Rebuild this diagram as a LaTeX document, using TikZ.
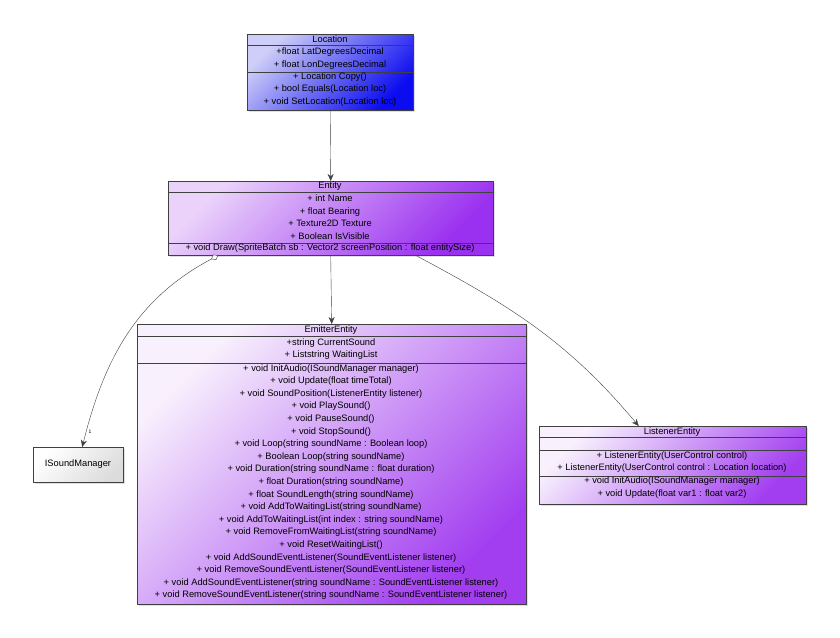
\documentclass[tikz,border=0pt]{standalone}
\usepackage{fontspec}
\setmainfont{Liberation Sans}
\usetikzlibrary{shadows, positioning, arrows.meta}

\newcommand{\umlfont}{\fontsize{9.3}{12.6}\selectfont}

\definecolor{locLight}{HTML}{CECEF8}
\definecolor{locDark}{HTML}{0C0CF0}
\definecolor{entLight}{HTML}{EAD2FA}
\definecolor{entDark}{HTML}{9A30F0}
\definecolor{emLight}{HTML}{F8F0FD}
\definecolor{emDark}{HTML}{A23EF0}
\definecolor{ismDark}{HTML}{DCDCDC}

\tikzset{
    class box/.style = {draw=black!75, anchor=north west, inner sep=0pt,
        drop shadow={opacity=0.25, shadow xshift=2pt, shadow yshift=-2pt}},
    members/.style = {align=center, inner sep=0pt, font=\umlfont},
    dep/.style = {draw=black!75, -{Stealth[length=7pt, width=6pt]}},
    agg/.style = {draw=black!75, {Diamond[fill=white, length=8pt, width=6pt]}-{Stealth[length=7pt, width=6pt]}},
}
\tikzset{
    loc shade/.style = {top color=locLight, bottom color=locDark, shading angle=45},
    ent shade/.style = {top color=entLight, bottom color=entDark, shading angle=45},
    em shade/.style = {top color=emLight, bottom color=emDark, shading angle=45},
    ism shade/.style = {top color=white, bottom color=ismDark, shading angle=45},
}

\begin{document}
\begin{tikzpicture}[x=1pt, y=-1pt]
    \fill[white] (0,0) rectangle (840,637);
    \useasboundingbox (0,0) rectangle (840,637);

    % class boxes
    \node[class box, loc shade, minimum width=166pt, minimum height=76pt] (loc) at (247,34) {};
    \node[class box, ent shade, minimum width=325pt, minimum height=74pt] (ent) at (168,181) {};
    \node[class box, em shade, minimum width=389pt, minimum height=280pt] (emit) at (137,324) {};
    \node[class box, em shade, minimum width=267pt, minimum height=78pt] (list) at (539,426) {};
    \node[class box, ism shade, minimum width=90pt, minimum height=35pt] (ism) at (33,447) {};

    % compartments
    \draw[black!75] (loc.north west) ++(0,11) -- ++(166,0);
    \draw[black!75] (loc.north west) ++(0,38) -- ++(166,0);
    \draw[black!75] (ent.north west) ++(0,11) -- ++(325,0);
    \draw[black!75] (ent.north west) ++(0,62) -- ++(325,0);
    \draw[black!75] (emit.north west) ++(0,12) -- ++(389,0);
    \draw[black!75] (emit.north west) ++(0,39) -- ++(389,0);
    \draw[black!75] (list.north west) ++(0,11) -- ++(267,0);
    \draw[black!75] (list.north west) ++(0,24) -- ++(267,0);
    \draw[black!75] (list.north west) ++(0,50) -- ++(267,0);

    % Location
    \node[members] (loc-name) at (330,39) {Location};
    \node[members] (loc-attr) at (330,58.5) {+float LatDegreesDecimal\\+ float LonDegreesDecimal};
    \node[members] (loc-ops) at (330,89.5) {+ Location Copy()\\+ bool Equals(Location loc)\\+ void SetLocation(Location loc)};

    % Entity
    \node[members] (ent-name) at (330,186) {Entity};
    \node[members] (ent-attr) at (330,217) {+ int Name\\+ float Bearing\\+ Texture2D Texture\\+ Boolean IsVisible};
    \node[members] (ent-ops) at (330,248) {+ void Draw(SpriteBatch sb : Vector2 screenPosition : float entitySize)};

    % EmitterEntity
    \node[members] (emit-name) at (331,330) {EmitterEntity};
    \node[members] (emit-attr) at (331,349) {+string CurrentSound\\+ Liststring WaitingList};
    \node[members] (emit-ops) at (331,482) {+ void InitAudio(ISoundManager manager)\\
        + void Update(float timeTotal)\\
        + void SoundPosition(ListenerEntity listener)\\
        + void PlaySound()\\
        + void PauseSound()\\
        + void StopSound()\\
        + void Loop(string soundName : Boolean loop)\\
        + Boolean Loop(string soundName)\\
        + void Duration(string soundName : float duration)\\
        + float Duration(string soundName)\\
        + float SoundLength(string soundName)\\
        + void AddToWaitingList(string soundName)\\
        + void AddToWaitingList(int index : string soundName)\\
        + void RemoveFromWaitingList(string soundName)\\
        + void ResetWaitingList()\\
        + void AddSoundEventListener(SoundEventListener listener)\\
        + void RemoveSoundEventListener(SoundEventListener listener)\\
        + void AddSoundEventListener(string soundName : SoundEventListener listener)\\
        + void RemoveSoundEventListener(string soundName : SoundEventListener listener)};

    % ListenerEntity
    \node[members] (list-name) at (672,432) {ListenerEntity};
    \node[members] (list-ctor) at (672,462) {+ ListenerEntity(UserControl control)\\+ ListenerEntity(UserControl control : Location location)};
    \node[members] (list-ops) at (672,487.5) {+ void InitAudio(ISoundManager manager)\\+ void Update(float var1 : float var2)};

    % ISoundManager
    \node[members] (ism-name) at (78,464) {ISoundManager};
    \node[font=\fontsize{5}{6}\selectfont, inner sep=0pt] (ism-mult) at (90,432) {1};

    % connectors
    \draw[dep] (loc.south) -- (ent.north);
    \draw[dep] (ent.south) -- (emit.north);
    \draw[dep] ([xshift=85pt]ent.south) to[out=-28, in=130] ([xshift=-34pt]list.north);
    \draw[agg] ([xshift=-112.5pt]ent.south) to[out=208, in=76] ([xshift=4pt]ism.north);
\end{tikzpicture}
\end{document}
